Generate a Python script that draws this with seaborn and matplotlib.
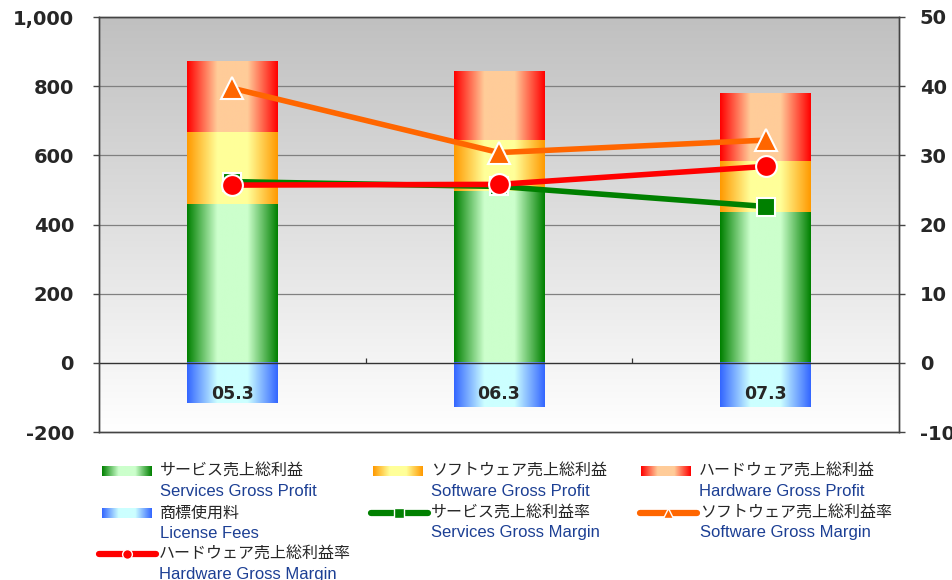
import numpy as np
import pandas as pd
import seaborn as sns
import matplotlib.pyplot as plt
from matplotlib.colors import LinearSegmentedColormap
from matplotlib.ticker import FuncFormatter

# values (億円 / %)
periods = ["05.3", "06.3", "07.3"]
services_profit = [458, 498, 435]
software_profit = [209, 145, 150]
hardware_profit = [205, 197, 195]
license_fees = [-117, -129, -129]
services_margin = [26.2, 25.5, 22.6]
software_margin = [39.7, 30.4, 32.2]
hardware_margin = [25.7, 25.8, 28.4]

sns.set_style("white")
plt.rcParams['font.family'] = ['DejaVu Sans', 'Noto Sans CJK JP']
plt.rcParams['axes.unicode_minus'] = False

fig = plt.figure(figsize=(9.53, 5.8), dpi=100)
ax = fig.add_axes([99 / 953, 1 - 432 / 580, 800 / 953, 415 / 580])

xpos = np.arange(len(periods))
width = 0.34

# background gradient (gray top -> white bottom)
bg = np.linspace(0, 1, 256).reshape(-1, 1)
bg_cmap = LinearSegmentedColormap.from_list("bg", ["#c0c0c0", "#ffffff"])
ax.imshow(bg, cmap=bg_cmap, extent=[0, 1, 0, 1], transform=ax.transAxes,
          aspect='auto', zorder=0)

grad = np.linspace(0, 1, 256).reshape(1, -1)


def gcmap(edge, center):
    return LinearSegmentedColormap.from_list("g", [edge, center, center, edge],
                                             N=256)


segments = [
    (services_profit, [0, 0, 0], gcmap("#008000", "#ccffcc")),
    (software_profit, services_profit, gcmap("#ff9900", "#ffff99")),
    (hardware_profit, list(np.add(services_profit, software_profit)),
     gcmap("#ff0000", "#ffcc99")),
    (license_fees, [0, 0, 0], gcmap("#3366ff", "#ccffff")),
]
for heights, bottoms, cmap in segments:
    bars = ax.bar(xpos, heights, width=width, bottom=bottoms, color="none",
                  linewidth=0, zorder=2)
    for b in bars:
        x0, y0 = b.get_x(), b.get_y()
        ax.imshow(grad, cmap=cmap, extent=[x0, x0 + b.get_width(), y0,
                                           y0 + b.get_height()],
                  aspect='auto', zorder=2)

for i, p in enumerate(periods):
    ax.text(xpos[i], -90, p, ha='center', va='center', fontsize=12.5,
            fontweight='bold', zorder=4)

ax.set_xlim(-0.5, len(periods) - 0.5)
ax.set_ylim(-200, 1000)
ax.set_yticks(range(-200, 1001, 200))
ax.yaxis.set_major_formatter(FuncFormatter(lambda v, _: f"{int(v):,}"))
ax.set_xticks([])
for y in range(200, 1001, 200):
    ax.axhline(y, color="#808080", linewidth=0.9, zorder=1)
ax.axhline(0, color="#333333", linewidth=1.0, zorder=3)
ax.vlines([0.5, 1.5], 0, 14, color="#333333", linewidth=0.9, zorder=3)

ax2 = ax.twinx()
ax2.set_ylim(-10, 50)
ax2.set_yticks(range(-10, 51, 10))

lines = [
    (services_margin, "#008000", "s", 13),
    (software_margin, "#ff6600", "^", 16),
    (hardware_margin, "#ff0000", "o", 15),
]
for vals, col, mk, ms in lines:
    sns.lineplot(x=xpos, y=vals, ax=ax2, color=col, linewidth=4,
                 marker=mk, markersize=ms, markeredgecolor="white",
                 markeredgewidth=1.5, legend=False)

for a in (ax, ax2):
    for s in a.spines.values():
        s.set_color("#444444")
        s.set_linewidth(1.0)
    a.tick_params(axis='y', length=4, width=1, color="#444444",
                  labelsize=14, direction='out')
    for lbl in a.get_yticklabels():
        lbl.set_fontweight('bold')
ax.tick_params(axis='y', pad=14)
ax2.tick_params(axis='y', pad=11)
ax2.set_ylabel("")

# legend drawn in figure pixel space
lax = fig.add_axes([0, 0, 1, 1])
lax.set_xlim(0, 953)
lax.set_ylim(580, 0)
lax.axis('off')

jp_kw = dict(fontsize=11.5, family=['Noto Sans CJK JP', 'DejaVu Sans'],
             va='center', ha='left')
en_kw = dict(fontsize=12, family='Liberation Sans', color="#1c3f94",
             va='center', ha='left')

patch_items = [
    (102, 471, gcmap("#008000", "#ccffcc"), "サービス売上総利益", "Services Gross Profit"),
    (373, 471, gcmap("#ff9900", "#ffff99"), "ソフトウェア売上総利益", "Software Gross Profit"),
    (641, 471, gcmap("#ff0000", "#ffcc99"), "ハードウェア売上総利益", "Hardware Gross Profit"),
    (102, 513, gcmap("#3366ff", "#ccffff"), "商標使用料", "License Fees"),
]
for x0, y, cm, jp, en in patch_items:
    lax.imshow(grad, cmap=cm, extent=[x0, x0 + 50, y + 5, y - 5],
               aspect='auto')
    lax.text(x0 + 58, y, jp, **jp_kw)
    lax.text(x0 + 58, y + 20, en, **en_kw)

line_items = [
    (371, 513, "#008000", "s", "サービス売上総利益率", "Services Gross Margin"),
    (640, 513, "#ff6600", "^", "ソフトウェア売上総利益率", "Software Gross Margin"),
    (99, 554, "#ff0000", "o", "ハードウェア売上総利益率", "Hardware Gross Margin"),
]
for x0, y, col, mk, jp, en in line_items:
    lax.plot([x0, x0 + 57], [y, y], color=col, linewidth=4.5,
             solid_capstyle='round')
    lax.plot([x0 + 28.5], [y], marker=mk, color=col, markersize=7,
             markeredgecolor="white", markeredgewidth=1)
    lax.text(x0 + 60, y, jp, **jp_kw)
    lax.text(x0 + 60, y + 20, en, **en_kw)
lax.set_xlim(0, 953)
lax.set_ylim(580, 0)

fig.savefig("out.png", dpi=100)
plt.close(fig)
